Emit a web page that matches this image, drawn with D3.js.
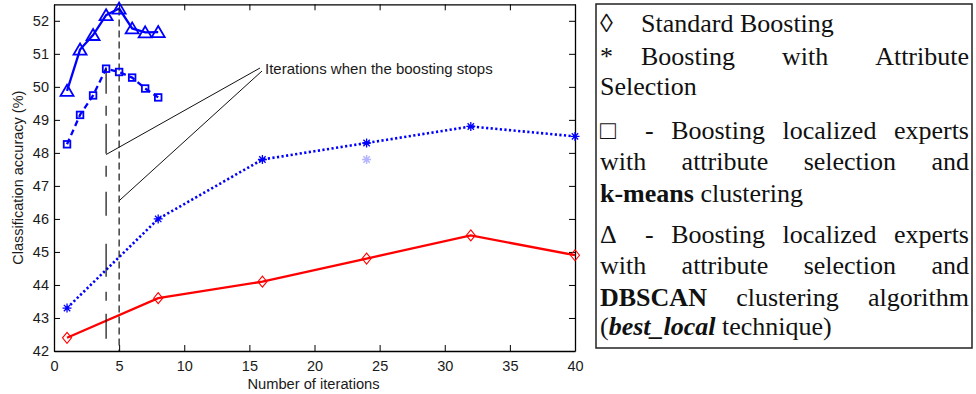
<!DOCTYPE html>
<html>
<head>
<meta charset="utf-8">
<script src="https://cdn.jsdelivr.net/npm/d3@7"></script>
<style>
  body { margin: 0; background: #fff; }
  svg { display: block; }
  .sans { font-family: Arial, Helvetica, sans-serif; }
  .serif { font-family: "Liberation Serif", "Times New Roman", Times, serif; }
</style>
</head>
<body>
<svg id="chart" width="976" height="394"></svg>
<script>
// dados
const iterations = [1, 8, 16, 24, 32, 40];
const standardBoosting = [42.4, 43.6, 44.1, 44.8, 45.5, 44.9];
const attributeSelection = [43.3, 46.0, 47.8, 48.3, 48.8, 48.5];
const localIterations = [1, 2, 3, 4, 5, 6, 7, 8];
const kmeansAccuracy = [48.26, 49.15, 49.74, 50.55, 50.45, 50.28, 49.95, 49.68];
const dbscanAccuracy = [49.88, 51.13, 51.57, 52.17, 52.37, 51.77, 51.65, 51.66];
const faintIterations = [24];
const faintAccuracy = [47.8];
const stopIterations = [4, 5];
const xTicks = [0, 5, 10, 15, 20, 25, 30, 35, 40];
const yTicks = [42, 43, 44, 45, 46, 47, 48, 49, 50, 51, 52];
const annotationText = "Iterations when the boosting stops";
const xTitle = "Number of iterations";
const yTitle = "Classification accuracy (%)";

// legenda: **negrito**, ***negrito italico***
const legendLines = [
  { bullet: "\u25CA", text: "Standard Boosting", justify: false },
  { bullet: "*", text: "Boosting with Attribute", justify: true },
  { bullet: "", text: "Selection", justify: false },
  { bullet: "\u25A1", text: "- Boosting localized experts", justify: true },
  { bullet: "", text: "with attribute selection and", justify: true },
  { bullet: "", text: "**k-means** clustering", justify: false },
  { bullet: "\u0394", text: "- Boosting localized experts", justify: true },
  { bullet: "", text: "with attribute selection and", justify: true },
  { bullet: "", text: "**DBSCAN** clustering algorithm", justify: true },
  { bullet: "", text: "(***best_local*** technique)", justify: false }
];

const svg = d3.select("#chart");
const blue = "#0000ff";
const red = "#ff0000";

const x = d3.scaleLinear().domain([0, 40]).range([54, 575]);
const y = d3.scaleLinear().domain([42, 52.5]).range([351, 4.3]);

// eixos estilo matlab, ticks pra dentro
const gx = svg.append("g").attr("transform", `translate(0,${y(42)})`)
  .call(d3.axisBottom(x).tickValues(xTicks).tickSizeInner(-6).tickSizeOuter(0).tickPadding(9));
const gxTop = svg.append("g").attr("transform", `translate(0,${y(52.5)})`)
  .call(d3.axisTop(x).tickValues(xTicks).tickSizeInner(-6).tickSizeOuter(0).tickFormat(""));
const gy = svg.append("g").attr("transform", `translate(${x(0)},0)`)
  .call(d3.axisLeft(y).tickValues(yTicks).tickSizeInner(-6).tickSizeOuter(0).tickPadding(5));
const gyRight = svg.append("g").attr("transform", `translate(${x(40)},0)`)
  .call(d3.axisRight(y).tickValues(yTicks).tickSizeInner(-6).tickSizeOuter(0).tickFormat(""));

[gx, gxTop, gy, gyRight].forEach(g => {
  g.attr("font-family", null).attr("font-size", null);
  g.selectAll("path.domain").attr("stroke", "#000").attr("stroke-width", 1.3);
  g.selectAll(".tick line").attr("stroke", "#000").attr("stroke-width", 1);
  g.selectAll("text").attr("class", "sans").style("font-size", "14.5px").attr("fill", "#1a1a1a");
});
gx.selectAll(".tick text").attr("dy", "0.75em");

svg.append("text").attr("class", "sans")
  .attr("x", x(20) - 1).attr("y", 389)
  .attr("text-anchor", "middle")
  .style("font-size", "14.7px").attr("fill", "#1a1a1a")
  .text(xTitle);

svg.append("text").attr("class", "sans")
  .attr("transform", `translate(23,${(y(42) + y(52.5)) / 2}) rotate(-90)`)
  .attr("text-anchor", "middle")
  .style("font-size", "14.5px").attr("fill", "#1a1a1a")
  .text(yTitle);

// linhas das series
const line = (xs) => d3.line().x((d, i) => x(xs[i])).y(d => y(d));

svg.append("path").datum(standardBoosting)
  .attr("d", line(iterations)).attr("fill", "none")
  .attr("stroke", red).attr("stroke-width", 2.3);

svg.append("path").datum(attributeSelection)
  .attr("d", line(iterations)).attr("fill", "none")
  .attr("stroke", blue).attr("stroke-width", 2.6)
  .attr("stroke-dasharray", "2.2,2.4");

svg.append("path").datum(kmeansAccuracy)
  .attr("d", line(localIterations)).attr("fill", "none")
  .attr("stroke", blue).attr("stroke-width", 2.3)
  .attr("stroke-dasharray", "6,4");

svg.append("path").datum(dbscanAccuracy)
  .attr("d", line(localIterations)).attr("fill", "none")
  .attr("stroke", blue).attr("stroke-width", 2.3);

// linhas verticais das paradas
const stopTop = [kmeansAccuracy[localIterations.indexOf(4)], dbscanAccuracy[localIterations.indexOf(5)]];
svg.append("line")
  .attr("x1", x(stopIterations[0])).attr("x2", x(stopIterations[0]))
  .attr("y1", y(stopTop[0])).attr("y2", y(42.33))
  .attr("stroke", "#111").attr("stroke-width", 1.2)
  .attr("stroke-dasharray", "25,12,10,8,30,12,11,15,24,28,33,15,9,13,25");
svg.append("line")
  .attr("x1", x(stopIterations[1])).attr("x2", x(stopIterations[1]))
  .attr("y1", y(stopTop[1])).attr("y2", y(42))
  .attr("stroke", "#111").attr("stroke-width", 1.2)
  .attr("stroke-dasharray", "7,4");

// marcadores
const markers = svg.append("g");

markers.selectAll(".diamond").data(standardBoosting).enter().append("path")
  .attr("transform", (d, i) => `translate(${x(iterations[i])},${y(d)})`)
  .attr("d", "M0,-5.5L4.5,0L0,5.5L-4.5,0Z")
  .attr("fill", "none").attr("stroke", red).attr("stroke-width", 1.1);

const starPath = "M-4.5,0H4.5M0,-4.5V4.5M-3.2,-3.2L3.2,3.2M-3.2,3.2L3.2,-3.2";
markers.selectAll(".star").data(attributeSelection).enter().append("path")
  .attr("transform", (d, i) => `translate(${x(iterations[i])},${y(d)})`)
  .attr("d", starPath)
  .attr("fill", "none").attr("stroke", blue).attr("stroke-width", 1.3);

markers.selectAll(".faint").data(faintAccuracy).enter().append("path")
  .attr("transform", (d, i) => `translate(${x(faintIterations[i])},${y(d)})`)
  .attr("d", starPath)
  .attr("fill", "none").attr("stroke", "#b4b4ff").attr("stroke-width", 1.5);

markers.selectAll(".square").data(kmeansAccuracy).enter().append("rect")
  .attr("x", (d, i) => x(localIterations[i]) - 3.3)
  .attr("y", d => y(d) - 3.3)
  .attr("width", 6.6).attr("height", 6.6)
  .attr("fill", "none").attr("stroke", blue).attr("stroke-width", 1.8);

markers.selectAll(".triangle").data(dbscanAccuracy).enter().append("path")
  .attr("transform", (d, i) => `translate(${x(localIterations[i])},${y(d)})`)
  .attr("d", "M0,-6L6.5,5L-6.5,5Z")
  .attr("fill", "none").attr("stroke", blue).attr("stroke-width", 1.8);

// anotação
const ann = svg.append("g");
const annX = 265, annY = 74;
ann.append("text").attr("class", "sans")
  .attr("x", annX).attr("y", annY)
  .style("font-size", "15px").attr("fill", "#1a1a1a")
  .text(annotationText);
ann.append("line")
  .attr("x1", annX - 5).attr("y1", annY - 6)
  .attr("x2", x(stopIterations[0])).attr("y2", y(47.95))
  .attr("stroke", "#111").attr("stroke-width", 1);
ann.append("line")
  .attr("x1", annX - 3).attr("y1", annY - 3)
  .attr("x2", x(stopIterations[1])).attr("y2", y(46.55))
  .attr("stroke", "#111").attr("stroke-width", 1);

// caixa da legenda
const box = { left: 596, top: 4, right: 972, bottom: 348 };
svg.append("rect")
  .attr("x", box.left).attr("y", box.top)
  .attr("width", box.right - box.left).attr("height", box.bottom - box.top)
  .attr("fill", "none").attr("stroke", "#222").attr("stroke-width", 1.5);

const baselines = [32, 65, 95, 139, 170, 202, 243, 274, 306, 335];
const textLeft = 600, textRight = 969, afterBullet = 641;

function addWord(g, word) {
  const t = g.append("text").attr("class", "serif")
    .style("font-size", "26px").attr("fill", "#111");
  // separa pedaços em negrito / negrito italico
  const parts = word.split(/(\*\*\*[^*]+\*\*\*|\*\*[^*]+\*\*)/).filter(p => p !== "");
  parts.forEach(p => {
    const ts = t.append("tspan");
    if (p.startsWith("***")) {
      ts.style("font-weight", "bold").style("font-style", "italic").text(p.slice(3, -3));
    } else if (p.startsWith("**")) {
      ts.style("font-weight", "bold").text(p.slice(2, -2));
    } else {
      ts.text(p);
    }
  });
  return t;
}

const legend = svg.append("g");
legendLines.forEach((ln, li) => {
  const by = baselines[li];
  let start = textLeft;
  if (ln.bullet) {
    legend.append("text").attr("class", "serif")
      .attr("x", textLeft).attr("y", by)
      .style("font-size", "26px").attr("fill", "#111")
      .text(ln.bullet);
    start = ln.bullet === "*" || ln.bullet === "\u25CA" ? afterBullet : 645;
  }
  if (!ln.justify) {
    const t = addWord(legend, ln.text.replace(/ /g, "\u00A0"));
    t.attr("x", start).attr("y", by);
    return;
  }
  const words = ln.text.split(" ");
  const nodes = words.map(w => addWord(legend, w).attr("y", by));
  const widths = nodes.map(n => n.node().getComputedTextLength());
  const gap = (textRight - start - d3.sum(widths)) / (words.length - 1);
  let cx = start;
  nodes.forEach((n, i) => {
    n.attr("x", cx);
    cx += widths[i] + gap;
  });
});
</script>
</body>
</html>
